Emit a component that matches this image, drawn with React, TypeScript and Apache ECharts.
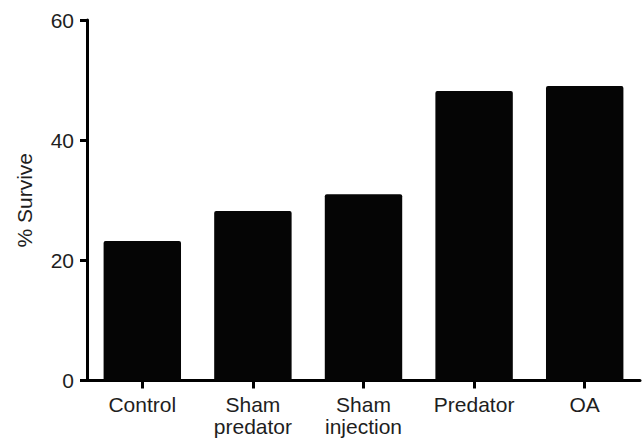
import React, { useEffect, useRef } from "react";
import * as echarts from "echarts";

const categories = ["Control", "Sham\npredator", "Sham\ninjection", "Predator", "OA"];
const survive = [23.2, 28.2, 31.0, 48.2, 49.0];
const yTicks = { min: 0, max: 60, interval: 20 };

export default function App() {
  const ref = useRef<HTMLDivElement>(null);
  useEffect(() => {
    if (!ref.current) return;
    const chart = echarts.init(ref.current, null, { renderer: "svg" });
    const font = "Liberation Sans, Arial, sans-serif";
    chart.setOption({
      animation: false,
      backgroundColor: "#ffffff",
      grid: { left: 87, right: 3, top: 20, bottom: 61.5, containLabel: false },
      xAxis: {
        type: "category",
        data: categories,
        axisLine: { show: true, lineStyle: { color: "#000", width: 3 } },
        axisTick: { show: true, alignWithLabel: true, length: 8, lineStyle: { color: "#000", width: 3 } },
        axisLabel: {
          color: "#1e1e1e",
          fontFamily: font,
          fontSize: 21,
          lineHeight: 22,
          margin: 13,
          interval: 0,
        },
        splitLine: { show: false },
      },
      yAxis: {
        type: "value",
        min: yTicks.min,
        max: yTicks.max,
        interval: yTicks.interval,
        name: "% Survive",
        nameLocation: "middle",
        nameGap: 52,
        nameRotate: 90,
        nameTextStyle: { color: "#1e1e1e", fontFamily: font, fontSize: 21 },
        axisLine: { show: true, lineStyle: { color: "#000", width: 3 } },
        axisTick: { show: true, length: 7, lineStyle: { color: "#000", width: 3 } },
        axisLabel: { color: "#1e1e1e", fontFamily: font, fontSize: 21, margin: 13 },
        splitLine: { show: false },
      },
      series: [
        {
          type: "bar",
          data: survive,
          barWidth: "70%",
          itemStyle: { color: "#050505", borderRadius: [2, 2, 0, 0] },
        },
      ],
    });
    return () => chart.dispose();
  }, []);
  return (
    <div
      ref={ref}
      style={{ position: "fixed", left: 0, top: 0, width: 643, height: 442 }}
    />
  );
}
